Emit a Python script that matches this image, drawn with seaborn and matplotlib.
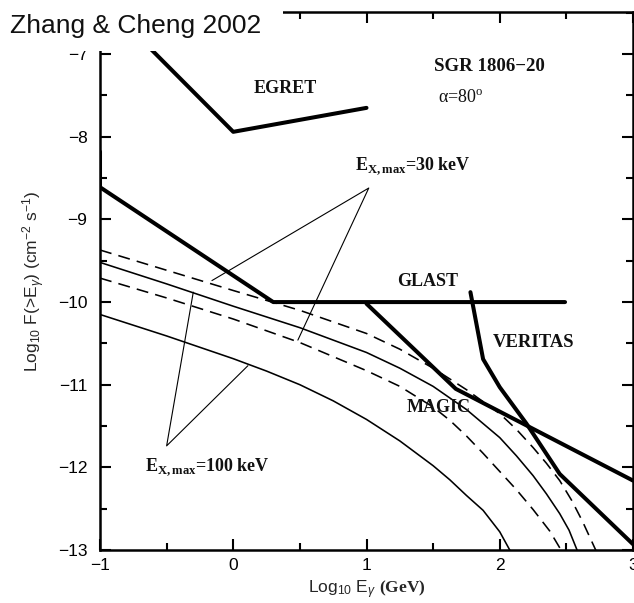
import numpy as np
import pandas as pd
import matplotlib
matplotlib.use("Agg")
import matplotlib.pyplot as plt
import seaborn as sns
from matplotlib.patches import Rectangle
from matplotlib.ticker import MultipleLocator

# ---------------- data ----------------
# model curves, E_X,max = 100 keV (solid) and 30 keV (dashed)
solid_lo_x = [-1.0, -0.5, 0.0, 0.25, 0.5, 0.75, 1.0, 1.25, 1.5, 1.625, 1.75, 1.875, 2.0, 2.075, 2.12]
solid_lo_y = [-10.15, -10.41, -10.685, -10.835, -11.0, -11.195, -11.42, -11.68, -11.98, -12.15,
              -12.34, -12.52, -12.78, -13.0, -13.15]

solid_hi_x = [-1.0, -0.5, 0.0, 0.5, 1.0, 1.25, 1.5, 1.75, 2.0, 2.125, 2.25, 2.35, 2.45, 2.52, 2.58, 2.62]
solid_hi_y = [-9.52, -9.78, -10.05, -10.31, -10.61, -10.80, -11.02, -11.30, -11.64, -11.86,
              -12.10, -12.32, -12.56, -12.76, -13.0, -13.15]

dash_hi_x = [-1.0, -0.5, 0.0, 0.5, 1.0, 1.25, 1.5, 1.75, 2.0, 2.125, 2.25, 2.35, 2.45, 2.54, 2.62, 2.72, 2.76]
dash_hi_y = [-9.37, -9.615, -9.86, -10.10, -10.38, -10.57, -10.80, -11.06, -11.35, -11.54,
             -11.76, -11.95, -12.16, -12.40, -12.65, -13.0, -13.15]

dash_lo_x = [-1.0, -0.5, 0.0, 0.5, 1.0, 1.25, 1.5, 1.625, 1.75, 1.875, 2.0, 2.125, 2.25, 2.375, 2.46, 2.50]
dash_lo_y = [-9.71, -9.95, -10.205, -10.49, -10.83, -11.02, -11.27, -11.43, -11.62, -11.83,
             -12.05, -12.27, -12.51, -12.77, -13.0, -13.15]

# instrument sensitivities
egret_x = [-1.0, 0.0, 1.0]
egret_y = [-6.32, -7.94, -7.65]

glast_x = [-1.0, -1.0, 0.3, 2.49]
glast_y = [-8.18, -8.61, -10.0, -10.0]

magic_x = [1.0, 1.67, 3.0]
magic_y = [-10.02, -11.05, -12.16]

veritas_x = [1.78, 1.875, 2.0, 2.2, 2.45, 3.0]
veritas_y = [-9.88, -10.69, -11.03, -11.47, -12.08, -12.93]

# annotation pointer lines
kev30_x = [-0.16, 1.017, 0.485]
kev30_y = [-9.74, -8.62, -10.46]
kev100_x = [-0.30, -0.50, 0.11]
kev100_y = [-9.88, -11.74, -10.77]

# text labels
label_text = ["EGRET", "SGR 1806\u221220", "GLAST", "VERITAS", "MAGIC"]
label_x = [0.15, 1.51, 1.23, 1.95, 1.30]
label_y = [-7.42, -7.15, -9.755, -10.49, -11.28]
label_size = [13, 13.6, 13, 13.4, 13]

# ---------------- style ----------------
sns.set_style("ticks")
plt.rcParams["font.family"] = ["Liberation Sans", "DejaVu Sans"]
plt.rcParams["mathtext.fontset"] = "custom"
plt.rcParams["mathtext.rm"] = "Liberation Sans"
plt.rcParams["mathtext.it"] = "Liberation Sans:italic"
plt.rcParams["mathtext.sf"] = "Liberation Serif"
plt.rcParams["mathtext.bf"] = "Liberation Serif:bold"
plt.rcParams["axes.unicode_minus"] = True

W, H = 634, 603
fig = plt.figure(figsize=(W / 100, H / 100), dpi=100)
ax = fig.add_axes([100 / W, 1 - 550 / H, 533 / W, 538 / H])

def draw(xs, ys, lw, ls="-"):
    sns.lineplot(x=xs, y=ys, ax=ax, sort=False, estimator=None,
                 color="black", linewidth=lw, linestyle=ls)

thin = 1.15
dash = (0, (7.5, 4.5))
draw(solid_lo_x, solid_lo_y, thin)
draw(solid_hi_x, solid_hi_y, thin)
draw(dash_hi_x, dash_hi_y, thin, dash)
draw(dash_lo_x, dash_lo_y, thin, dash)

thick = 2.9
draw(egret_x, egret_y, thick)
draw(glast_x, glast_y, thick)
draw(magic_x, magic_y, thick)
draw(veritas_x, veritas_y, thick)

draw(kev30_x, kev30_y, 0.8)
draw(kev100_x, kev100_y, 0.8)

serif = ["Liberation Serif", "DejaVu Serif"]
for t, x, y, fs in zip(label_text, label_x, label_y, label_size):
    ax.text(x, y, t, family=serif, weight="bold", fontsize=fs,
            ha="left", va="center", color="#111111")
ax.text(1.535, -7.54, "\u03b1=80$^{\\mathsf{o}}$", family=serif, fontsize=13,
        ha="left", va="center", color="#111111")
ax.text(0.91, -8.36, "E$_{\\mathbf{X,max}}$=30 keV", family=serif, weight="bold",
        fontsize=13, ha="left", va="center", color="#111111")
ax.text(-0.66, -12.0, "E$_{\\mathbf{X,max}}$=100 keV", family=serif, weight="bold",
        fontsize=13, ha="left", va="center", color="#111111")

ax.set_xlim(-1, 3)
ax.set_ylim(-13, -6.49)
ax.xaxis.set_major_locator(MultipleLocator(1))
ax.xaxis.set_minor_locator(MultipleLocator(0.5))
ax.yaxis.set_major_locator(MultipleLocator(1))
ax.yaxis.set_minor_locator(MultipleLocator(0.5))
ax.tick_params(which="both", direction="in", top=True, right=True,
               width=1.5, colors="black", labelsize=12.5)
ax.tick_params(which="major", length=8)
ax.tick_params(which="minor", length=5)
ax.tick_params(axis="y", pad=9)
ax.tick_params(axis="x", pad=6)
for s in ax.spines.values():
    s.set_linewidth(1.8)
    s.set_color("black")
    s.set_visible(True)

ax.set_xlabel("Log$_{10}$ E$_{\\gamma}$ $\\mathbf{(GeV)}$", fontsize=12.5, labelpad=4)
ax.set_ylabel("Log$_{10}$ F(>E$_{\\gamma}$) (cm$^{-2}$ s$^{-1}$)", fontsize=12.5, labelpad=8)

# white title box over the upper-left corner
fig.add_artist(Rectangle((0, 1 - 51 / H), 283 / W, 51 / H, transform=fig.transFigure,
                         facecolor="white", edgecolor="none", zorder=5))
fig.text(10 / W, 1 - 33 / H, "Zhang & Cheng 2002", fontsize=19, ha="left",
         va="baseline", zorder=6, color="#111111")

fig.savefig("out.png", dpi=100)
